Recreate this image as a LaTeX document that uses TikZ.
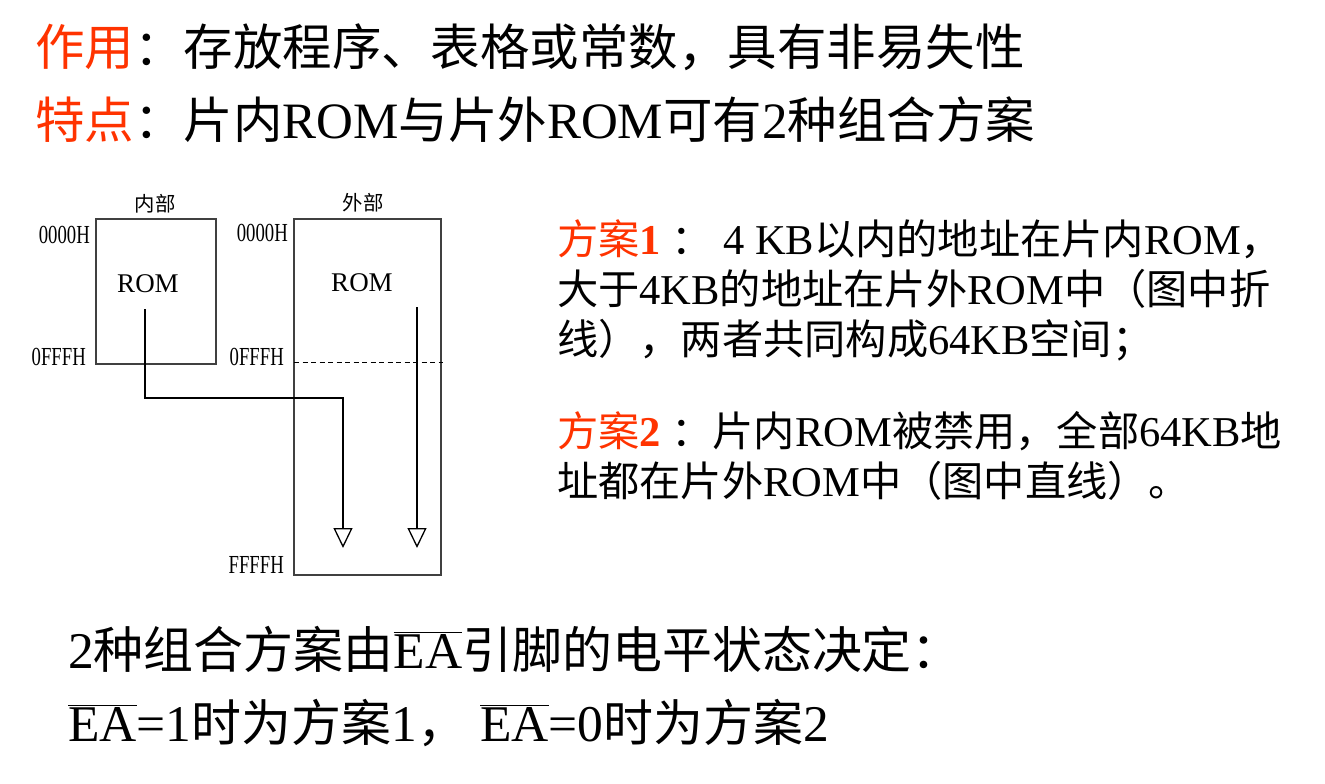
\documentclass[tikz,border=0pt]{standalone}
\usepackage{fontspec}
\usepackage{tikz}
\usetikzlibrary{positioning, arrows.meta}
\setmainfont{Liberation Serif}
\newfontfamily\zhfont{Noto Sans CJK SC}[Scale=0.97]
\newfontfamily\addrfont{Liberation Serif}[FakeStretch=0.72]
\newcommand{\zh}[1]{{\zhfont #1}}
\newcommand{\ea}{\(\overline{\mbox{EA}}\)}
\definecolor{hl}{RGB}{255,51,0}

\begin{document}
\begin{tikzpicture}[x=1pt,y=-1pt,
        title/.style = {anchor=base west, inner sep=0, font=\fontsize{51}{60}\selectfont},
        plan/.style = {anchor=base west, inner sep=0, font=\fontsize{42.5}{50}\selectfont},
        note/.style = {anchor=base west, inner sep=0, font=\fontsize{51.5}{60}\selectfont},
        mem/.style = {draw=black!75, line width=1.2pt, inner sep=0},
        tag/.style = {inner sep=0, font=\fontsize{21}{26}\selectfont},
        rom/.style = {inner sep=0, font=\fontsize{27}{30}\selectfont},
        addr/.style = {anchor=east, inner sep=0, font=\addrfont\fontsize{26}{30}\selectfont},
        flow/.style = {line width=1.8pt, -{Triangle[open,width=19pt,length=20pt,line width=1.3pt]}},
        ]
        \useasboundingbox (0,0) rectangle (1325,784);

        \node[title] (use) at (35,66) {{\color{hl}\zh{作用}}\zh{：存放程序、表格或常数，具有非易失性}};
        \node[title] (feat) at (35,138) {{\color{hl}\zh{特点}}\zh{：片内}ROM\zh{与片外}ROM\zh{可有}2\zh{种组合方案}};

        % memory maps
        \node[mem, minimum width=120pt, minimum height=145pt] (in) at (156,291.5) {};
        \node[mem, minimum width=147pt, minimum height=356pt] (ex) at (367.5,397) {};
        \node[tag] (intag) at (155,204) {\zh{内部}};
        \node[tag] (extag) at (363,203) {\zh{外部}};
        \node[rom] (inrom) at (148,284) {ROM};
        \node[rom] (exrom) at (362,283) {ROM};
        \node[addr] (in0) at (90,235) {0000H};
        \node[addr] (in1) at (86,357) {0FFFH};
        \node[addr] (ex0) at (288,233) {0000H};
        \node[addr] (ex1) at (284,357) {0FFFH};
        \node[addr] (ex2) at (284,565) {FFFFH};

        \coordinate (d1) at (294,362);
        \coordinate (d2) at (443,362);
        \draw[line width=1pt, dash pattern=on 5pt off 3.5pt] (d1) -- (d2);

        \coordinate (s1) at (145,309);
        \coordinate (b1) at (343,398);
        \coordinate (e1) at (343,548);
        \coordinate (s2) at (417,307);
        \coordinate (e2) at (417,548);
        \draw[flow] (s1) |- (b1) -- (e1);
        \draw[flow] (s2) -- (e2);

        % schemes
        \node[plan] (p1a) at (557,254) {{\color{hl}\zh{方案}\textbf{1}} \zh{：} 4 KB\zh{以内的地址在片内}ROM\zh{，}};
        \node[plan] (p1b) at (557,304) {\zh{大于}4KB\zh{的地址在片外}ROM\zh{中（图中折}};
        \node[plan] (p1c) at (557,354) {\zh{线），两者共同构成}64KB\zh{空间；}};
        \node[plan] (p2a) at (557,446) {{\color{hl}\zh{方案}\textbf{2}} \zh{：片内}ROM\zh{被禁用，全部}64KB\zh{地}};
        \node[plan] (p2b) at (557,496) {\zh{址都在片外}ROM\zh{中（图中直线）。}};

        \node[note] (ea1) at (68,668) {2\zh{种组合方案由}\ea\zh{引脚的电平状态决定：}};
        \node[note] (ea2) at (68,741) {\ea=1\zh{时为方案}1\zh{，}\ \ea=0\zh{时为方案}2};
    \end{tikzpicture}
\end{document}
